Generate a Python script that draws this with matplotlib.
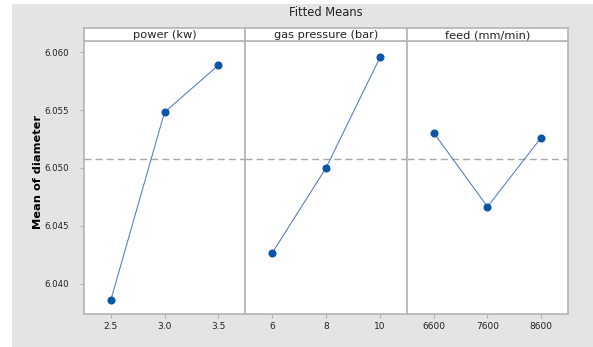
import matplotlib
matplotlib.use("Agg")
import matplotlib.pyplot as plt
from matplotlib.patches import Rectangle

# factor names, levels and fitted means
factors = ["power (kw)", "gas pressure (bar)", "feed (mm/min)"]
power_levels = [2.5, 3.0, 3.5]
power_means = [6.03862, 6.05480, 6.05885]
gas_levels = [6, 8, 10]
gas_means = [6.04264, 6.05000, 6.05954]
feed_levels = [6600, 7600, 8600]
feed_means = [6.05302, 6.04666, 6.05262]
tick_labels = [["2.5", "3.0", "3.5"], ["6", "8", "10"], ["6600", "7600", "8600"]]
grand_mean = 6.05078
y_ticks = [6.040, 6.045, 6.050, 6.055, 6.060]

levels = [power_levels, gas_levels, feed_levels]
means = [power_means, gas_means, feed_means]

W, H = 593, 347
fig = plt.figure(figsize=(W / 100, H / 100), dpi=100)
fig.patch.set_facecolor("white")

# gray backdrop like the Minitab graph region
fig.patches.append(Rectangle((12 / W, 0), 1 - 12 / W, 1 - 4 / H,
                             transform=fig.transFigure, facecolor="#e4e4e4",
                             edgecolor="none", zorder=-5))

edge = "#b4b4b4"
lefts = [84, 245, 407]
widths = [161, 162, 161]
plot_top, plot_bot, strip_top = 41, 314, 28

axes = []
for i in range(3):
    ax = fig.add_axes([lefts[i] / W, 1 - plot_bot / H, widths[i] / W, (plot_bot - plot_top) / H],
                      sharey=axes[0] if axes else None)
    ax.set_facecolor("white")
    axes.append(ax)
    x, y = levels[i], means[i]
    step = x[1] - x[0]
    ax.plot(x, y, color="#4a7cc9", lw=0.75, marker="o", ms=4.8,
            mfc="#0b55a8", mec="#0b55a8", zorder=3)
    ax.axhline(grand_mean, color="#a8a8a8", lw=1.0, ls=(0, (5, 3)), zorder=2)
    ax.set_xlim(x[0] - step / 2, x[-1] + step / 2)
    ax.set_xticks(x)
    ax.set_xticklabels(tick_labels[i])
    for s in ax.spines.values():
        s.set_color(edge)
        s.set_linewidth(1.2)
    ax.tick_params(axis="x", length=3, color=edge, labelsize=6.5, pad=3,
                   labelcolor="#222222")
    if i == 0:
        ax.set_yticks(y_ticks)
        ax.set_yticklabels([f"{v:.3f}" for v in y_ticks])
        ax.tick_params(axis="y", length=3, color=edge, labelsize=6.2, pad=8,
                       labelcolor="#222222")
    else:
        ax.tick_params(axis="y", left=False, labelleft=False)

    # facet header strip
    sa = fig.add_axes([lefts[i] / W, 1 - plot_top / H, widths[i] / W, (plot_top - strip_top) / H])
    sa.set_facecolor("white")
    sa.set_xticks([])
    sa.set_yticks([])
    for s in sa.spines.values():
        s.set_color(edge)
        s.set_linewidth(1.2)
    sa.text(0.5, 0.45, factors[i], ha="center", va="center", fontsize=8.2,
            color="#222222", transform=sa.transAxes)

axes[0].set_ylim(6.03741, 6.06095)

# y label placed by hand, between the gray margin and the tick labels
fig.text(38 / W, 1 - 172 / H, "Mean of diameter", rotation=90, ha="center",
         va="center", fontsize=8.2, fontweight="bold")

fig.text(326 / W, 1 - 12 / H, "Fitted Means", ha="center", va="center",
         fontsize=8.3, color="#222222")

fig.savefig("out.png", dpi=100)
